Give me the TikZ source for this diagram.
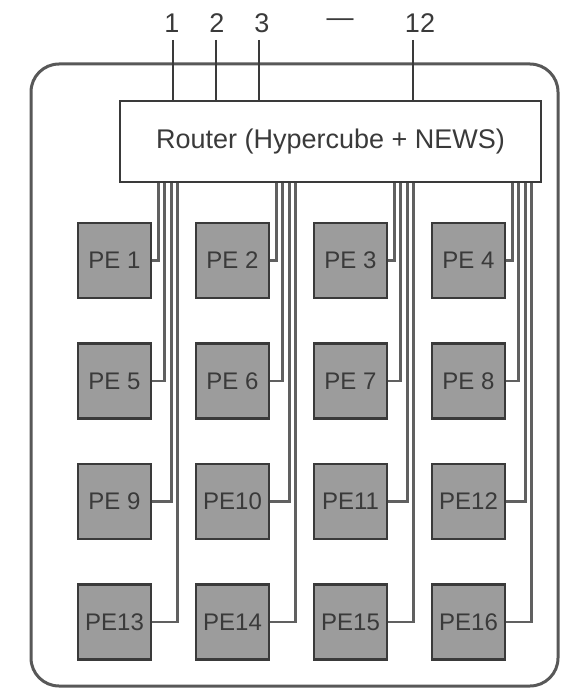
\documentclass[tikz,border=0pt]{standalone}
\usepackage{fontspec}
\setmainfont{Liberation Sans}
\usetikzlibrary{calc}
\definecolor{pefill}{HTML}{9C9C9C}
\definecolor{dark}{HTML}{3A3A3A}
\definecolor{wire}{HTML}{606060}
\begin{document}
\begin{tikzpicture}[x=1pt,y=-1pt,
  pebox/.style={draw=dark, line width=2.6pt, fill=pefill, minimum width=73pt, minimum height=75pt, inner sep=0pt, text=dark, font=\fontsize{24}{26}\selectfont},
  routerbox/.style={draw=dark, line width=2.6pt, fill=white, minimum width=421pt, minimum height=81pt, inner sep=0pt, font=\fontsize{27}{30}\selectfont, text=dark},
  numlabel/.style={font=\fontsize{27}{30}\selectfont, text=dark, inner sep=1pt},
  wireline/.style={draw=wire, line width=2.8pt},
  topline/.style={draw=dark, line width=2pt}]
\useasboundingbox (0,0) rectangle (565,693);
% outer frame
\draw[draw=dark!85, line width=3pt, rounded corners=28pt] (31,64) rectangle (558,686);
% router
\node[routerbox] (router) at (330.5,141.5) {Router (Hypercube + NEWS)};
% top labels
\node[numlabel] (n1) at (172,23) {1};
\node[numlabel] (n2) at (217,23) {2};
\node[numlabel] (n3) at (262,23) {3};
\node[numlabel] (ndots) at (340,23) {—};
\node[numlabel] (n12) at (420,23) {12};
\coordinate (t1) at (173,40);
\coordinate (t2) at (216,40);
\coordinate (t3) at (259,40);
\coordinate (t12) at (413,40);
\foreach \t in {t1,t2,t3,t12}{
  \draw[topline] (\t) -- (\t |- router.north);
}
% PEs
\foreach \r in {1,2,3,4}{
  \foreach \c in {1,2,3,4}{
    \pgfmathtruncatemacro{\k}{(\r-1)*4+\c}
    \pgfmathsetmacro{\cx}{114.5+118*(\c-1)}
    \pgfmathsetmacro{\cy}{260.5+120.5*(\r-1)}
    \ifnum\k<10
      \node[pebox] (PE\k) at (\cx,\cy) {PE \k};
    \else
      \node[pebox] (PE\k) at (\cx,\cy) {PE\k};
    \fi
  }
}
% wires from router to PEs
\foreach \r in {1,2,3,4}{
  \foreach \c in {1,2,3,4}{
    \pgfmathtruncatemacro{\k}{(\r-1)*4+\c}
    \pgfmathsetmacro{\dx}{6+6.5*(\r-1)}
    \draw[wireline] ([xshift=\dx pt]PE\k.east |- router.south) |- (PE\k.east);
  }
}
\end{tikzpicture}
\end{document}
